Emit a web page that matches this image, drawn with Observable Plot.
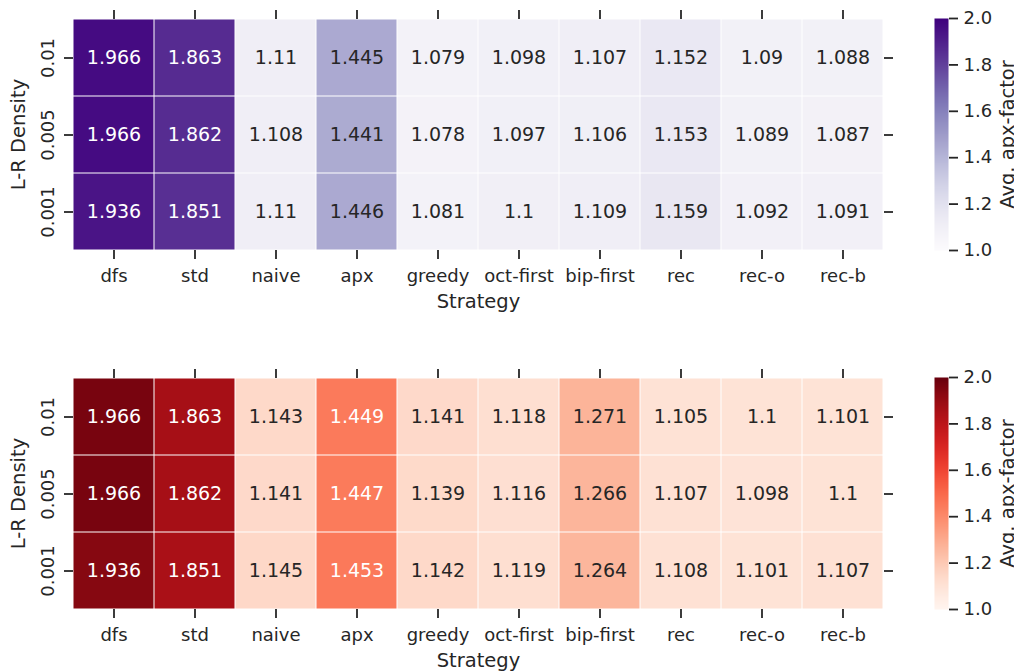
<!DOCTYPE html>
<html><head><meta charset="utf-8">
<script src="https://cdn.jsdelivr.net/npm/d3@7"></script>
<script src="https://cdn.jsdelivr.net/npm/@observablehq/plot@0.6"></script>
<style>
body{margin:0;background:#fff;}
#root{position:relative;width:1014px;height:672px;overflow:hidden;font-family:"DejaVu Sans",sans-serif;background:#fff;}
#root > div{position:absolute;}
</style></head><body><div id="root"></div>
<script>
const strategies = ["dfs","std","naive","apx","greedy","oct-first","bip-first","rec","rec-o","rec-b"];
const densities = ["0.01","0.005","0.001"];
const topValues = [
  [1.966,1.863,1.11,1.445,1.079,1.098,1.107,1.152,1.09,1.088],
  [1.966,1.862,1.108,1.441,1.078,1.097,1.106,1.153,1.089,1.087],
  [1.936,1.851,1.11,1.446,1.081,1.1,1.109,1.159,1.092,1.091]
];
const bottomValues = [
  [1.966,1.863,1.143,1.449,1.141,1.118,1.271,1.105,1.1,1.101],
  [1.966,1.862,1.141,1.447,1.139,1.116,1.266,1.107,1.098,1.1],
  [1.936,1.851,1.145,1.453,1.142,1.119,1.264,1.108,1.101,1.107]
];
const colorbarTicks = [1.0,1.2,1.4,1.6,1.8,2.0];
const colorDomain = [1, 2];
const ink = "#262626";

function luminance(c){
  const {r,g,b} = d3.rgb(c);
  const f = v => { v /= 255; return v <= 0.03928 ? v/12.92 : Math.pow((v+0.055)/1.055, 2.4); };
  return 0.2126*f(r) + 0.7152*f(g) + 0.0722*f(b);
}

function heatmap(values, scheme){
  const rows = densities.flatMap((d,i) => strategies.map((s,j) => ({density:d, strategy:s, value:values[i][j]})));
  const interp = scheme === "purples" ? d3.interpolatePurples : d3.interpolateReds;
  const isDark = d => luminance(interp((d.value - colorDomain[0])/(colorDomain[1]-colorDomain[0]))) <= 0.408;
  return Plot.plot({
    width:1014, height:313, marginLeft:73, marginRight:131, marginTop:18, marginBottom:63,
    style:{fontFamily:"DejaVu Sans", fontSize:"18px", color:ink, background:"transparent", maxWidth:"none", overflow:"visible"},
    x:{domain:strategies, padding:0},
    y:{domain:densities, padding:0},
    color:{type:"linear", scheme, domain:colorDomain},
    marks:[
      Plot.cell(rows, {x:"strategy", y:"density", fill:"value", inset:0.5}),
      Plot.text(rows.filter(isDark), {x:"strategy", y:"density", text:d => String(d.value), fill:"white", fontSize:19}),
      Plot.text(rows.filter(d => !isDark(d)), {x:"strategy", y:"density", text:d => String(d.value), fill:ink, fontSize:19}),
      Plot.axisX({anchor:"bottom", tickSize:9, tickPadding:10, strokeWidth:1.8, stroke:ink, fill:ink, label:null}),
      Plot.axisX({anchor:"bottom", ticks:[], fill:ink, fontSize:19.5, label:"Strategy", labelAnchor:"center", labelArrow:"none", labelOffset:57}),
      Plot.axisX({anchor:"top", tickSize:9, strokeWidth:1.8, stroke:ink, tickFormat:() => "", label:null}),
      Plot.axisY({anchor:"left", tickSize:9, tickPadding:11, tickRotate:-90, strokeWidth:1.8, stroke:ink, fill:ink, label:null}),
      Plot.axisY({anchor:"left", ticks:[], fill:ink, fontSize:19.5, label:"L-R Density", labelAnchor:"center", labelArrow:"none", labelOffset:62}),
      Plot.axisY({anchor:"right", tickSize:9, strokeWidth:1.8, stroke:ink, tickFormat:() => "", label:null})
    ]
  });
}

function colorbar(scheme){
  return Plot.plot({
    width:100, height:313, marginLeft:0, marginRight:86, marginTop:18, marginBottom:63,
    style:{fontFamily:"DejaVu Sans", fontSize:"18px", color:ink, background:"transparent", maxWidth:"none", overflow:"visible"},
    x:{domain:[0,1], axis:null},
    y:{domain:colorDomain, axis:null},
    color:{type:"linear", scheme, domain:colorDomain},
    marks:[
      Plot.raster({x1:0, x2:1, y1:colorDomain[0], y2:colorDomain[1], width:1, height:232, fill:(x,y) => y, imageRendering:"auto"}),
      Plot.axisY({anchor:"right", ticks:colorbarTicks, tickFormat:".1f", tickSize:9, tickPadding:6, strokeWidth:1.8, stroke:ink, fill:ink, label:null}),
      Plot.axisY({anchor:"right", ticks:[], fill:ink, fontSize:19.5, label:"Avg. apx-factor", labelAnchor:"center", labelArrow:"none", labelOffset:65})
    ]
  });
}

const root = document.getElementById("root");
function place(node, left, top){
  const div = document.createElement("div");
  div.style.left = left + "px"; div.style.top = top + "px";
  div.appendChild(node); root.appendChild(div);
}
place(heatmap(topValues, "purples"), 0, 0);
place(colorbar("purples"), 934, 0);
place(heatmap(bottomValues, "reds"), 0, 359);
place(colorbar("reds"), 934, 359);
</script></body></html>
